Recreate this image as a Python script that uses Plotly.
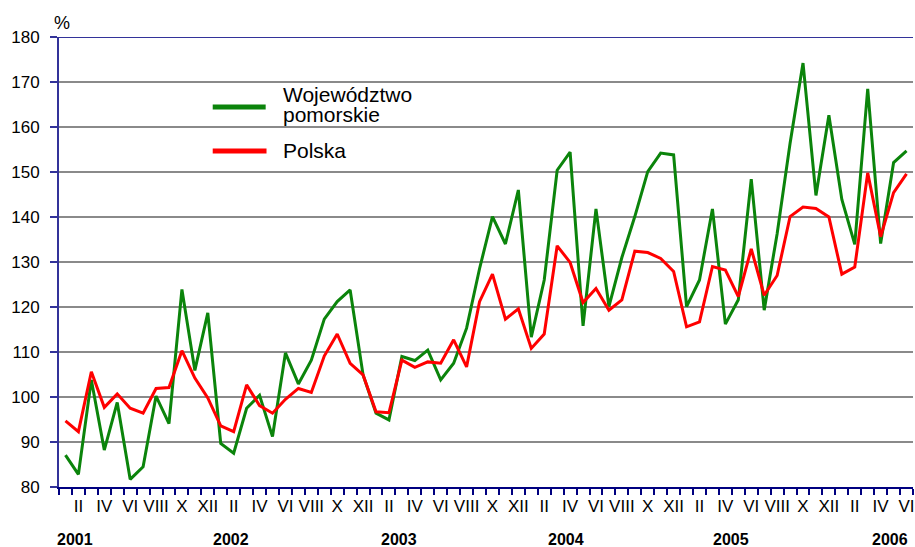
import plotly.graph_objects as go

# dynamika, %, miesiące I 2001 - VI 2006
pomorskie = [
    87.1, 82.8, 103.8, 88.2, 98.8, 81.7, 84.5, 100.2, 94.1, 123.9, 105.9, 118.7,
    89.7, 87.5, 97.5, 100.4, 91.2, 109.8, 102.9, 108.2, 117.3, 121.2, 123.8, 104.9,
    96.4, 94.9, 109.0, 108.1, 110.4, 103.8, 107.5, 115.3, 128.5, 140.1, 134.0, 146.0,
    113.3, 126.0, 150.4, 154.4, 115.8, 141.8, 120.1, 131.0, 140.1, 150.1, 154.2, 153.8,
    120.1, 126.0, 141.8, 116.2, 121.6, 148.4, 119.3, 136.3, 156.4, 174.2, 144.8, 162.6,
    143.9, 133.9, 168.5, 134.1, 152.1, 154.7,
]
polska = [
    94.7, 92.3, 105.6, 97.7, 100.7, 97.5, 96.4, 101.9, 102.1, 110.3, 104.2, 99.8,
    93.6, 92.3, 102.7, 98.1, 96.4, 99.5, 101.9, 101.0, 109.1, 114.0, 107.5, 104.9,
    96.7, 96.5, 108.2, 106.6, 107.8, 107.5, 112.7, 106.7, 121.2, 127.3, 117.3, 119.6,
    110.8, 114.0, 133.6, 129.9, 121.0, 124.1, 119.3, 121.6, 132.4, 132.1, 130.8, 127.9,
    115.6, 116.7, 129.0, 128.2, 122.3, 132.9, 122.6, 127.0, 140.1, 142.2, 141.9, 140.0,
    127.3, 128.9, 149.8, 135.6, 145.4, 149.6,
]
roman = ["I", "II", "III", "IV", "V", "VI", "VII", "VIII", "IX", "X", "XI", "XII"]
years = ["2001", "2002", "2003", "2004", "2005", "2006"]
series_names = ["Województwo", "pomorskie", "Polska"]

# where the year captions sit under the month labels (month index)
year_pos = [0.73, 12.8, 25.8, 38.7, 51.4, 63.7]

GREEN = "#0b840b"
RED = "#ff0000"
BLUE = "#333399"
NAVY = "#000080"
FONT = "Liberation Sans, Arial, sans-serif"

n = len(pomorskie)
x = list(range(n))
tick_x = [i for i in x if i % 2 == 1]
tick_text = [roman[i % 12] for i in tick_x]

fig = go.Figure()
fig.add_trace(go.Scatter(x=x, y=pomorskie, mode="lines",
                         line=dict(color=GREEN, width=3),
                         name="Województwo pomorskie"))
fig.add_trace(go.Scatter(x=x, y=polska, mode="lines",
                         line=dict(color=RED, width=3),
                         name="Polska"))

fig.update_layout(
    width=915, height=547,
    margin=dict(l=59, r=0, t=37, b=60),
    plot_bgcolor="white", paper_bgcolor="white",
    showlegend=False,
    font=dict(family=FONT, size=17, color="black"),
    xaxis=dict(
        range=[-0.5, n - 0.5], tickmode="array", tickvals=tick_x, ticktext=tick_text,
        ticks="", showgrid=False, zeroline=False,
        showline=True, linecolor=NAVY, linewidth=2,
        ticklabelstandoff=3, ticklabeloverflow="allow",
        minor=dict(tickmode="linear", tick0=-0.5, dtick=1, ticks="outside",
                   ticklen=6, tickwidth=2, tickcolor=NAVY, showgrid=False),
    ),
    yaxis=dict(
        range=[80, 180], tick0=80, dtick=10,
        ticks="outside", ticklen=7, tickwidth=2, tickcolor=BLUE,
        showline=True, linecolor=BLUE, linewidth=2,
        gridcolor="#8a8a8a", gridwidth=1.5, zeroline=False,
        ticklabelstandoff=7,
    ),
)

# top frame line at 180
fig.add_shape(type="line", xref="paper", yref="y", x0=0, x1=1, y0=180, y1=180,
              line=dict(color=BLUE, width=2))

# legend drawn by hand: longer, thicker keys than plotly's own
fig.add_shape(type="line", xref="paper", yref="paper", x0=0.18, x1=0.242,
              y0=0.8444, y1=0.8444, line=dict(color=GREEN, width=5))
fig.add_shape(type="line", xref="paper", yref="paper", x0=0.18, x1=0.243,
              y0=0.7467, y1=0.7467, line=dict(color=RED, width=5))
for txt, yy in zip(series_names, [0.873, 0.828, 0.7473]):
    fig.add_annotation(text=txt, xref="paper", yref="paper", x=0.2605, y=yy,
                       xanchor="left", yanchor="middle", showarrow=False,
                       font=dict(size=21, family=FONT))

fig.add_annotation(text="%", xref="paper", yref="paper", x=0.003, y=1.031,
                   xanchor="center", yanchor="middle", showarrow=False,
                   font=dict(size=18, family=FONT))

for yr, pos in zip(years, year_pos):
    fig.add_annotation(text="<b>" + yr + "</b>", xref="x", yref="paper", x=pos, y=-0.116,
                       xanchor="center", yanchor="middle", showarrow=False,
                       font=dict(size=16, family="Liberation Sans Narrow, Arial Narrow, " + FONT))

# drop the browser's default 8px body margin so the figure sits at the page corner
fig.write_html("out.html", config={"displayModeBar": False},
               post_script="document.body.style.margin='0';")
